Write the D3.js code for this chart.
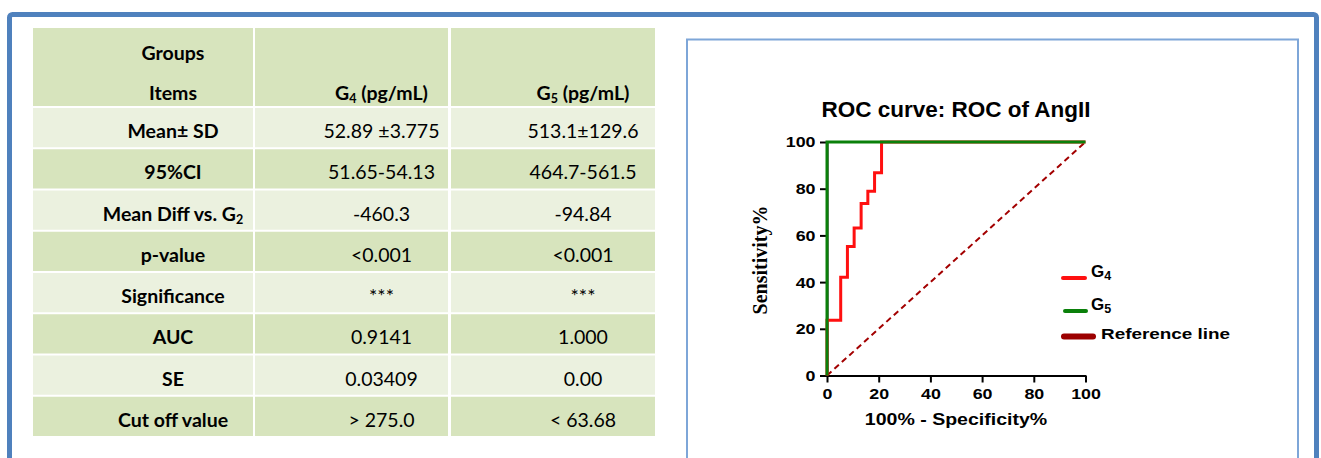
<!DOCTYPE html>
<html>
<head>
<meta charset="utf-8">
<script src="https://cdn.jsdelivr.net/npm/d3@7"></script>
<style>
  body { margin: 0; background: #fff; overflow: hidden; }
  svg { display: block; }
</style>
</head>
<body>
<svg id="chart"></svg>
<script>
// ---- Table content ----
const headerGroups = "Groups";
const headerItems = "Items";
const columnHeads = ["G_4 (pg/mL)", "G_5 (pg/mL)"];
const rowLabels = ["Mean± SD", "95%CI", "Mean Diff vs. G_2", "p-value", "Significance", "AUC", "SE", "Cut off value"];
const g4Values = ["52.89 ±3.775", "51.65-54.13", "-460.3", "<0.001", "***", "0.9141", "0.03409", "> 275.0"];
const g5Values = ["513.1±129.6", "464.7-561.5", "-94.84", "<0.001", "***", "1.000", "0.00", "< 63.68"];

// ---- ROC curve points (100% - specificity, sensitivity) ----
const g4Fpr  = [0, 0, 5.3, 5.3, 7.9, 7.9, 10.5, 10.5, 13.2, 13.2, 15.8, 15.8, 18.4, 18.4, 21.1, 21.1, 100];
const g4Sens = [0, 23.7, 23.7, 42.1, 42.1, 55.3, 55.3, 63.2, 63.2, 73.7, 73.7, 78.9, 78.9, 86.8, 86.8, 100, 100];
const g5Fpr  = [0, 0, 100];
const g5Sens = [0, 100, 100];
const refFpr  = [0, 100];
const refSens = [0, 100];
const xTicks = [0, 20, 40, 60, 80, 100];
const yTicks = [0, 20, 40, 60, 80, 100];
const chartTitle = "ROC curve: ROC of AngII";
const xTitle = "100% - Specificity%";
const yTitle = "Sensitivity%";
const legendLabels = ["G_4", "G_5", "Reference line"];

const width = 1321, height = 458;
const svg = d3.select("#chart").attr("width", width).attr("height", height);

// writes text with "_n" parts as subscripts
function rich(sel, str, subSize, shift) {
    const parts = str.split(/_(\d)/);
    let lowered = false;
    parts.forEach((p, i) => {
        if (!p) return;
        const t = sel.append("tspan").text(p);
        if (i % 2 === 1) {
            t.attr("font-size", subSize).attr("dy", shift);
            lowered = true;
        } else if (lowered) {
            t.attr("dy", -shift);
            lowered = false;
        }
    });
}

// ---- frames ----
svg.append("rect")
    .attr("x", 9.5).attr("y", 14.5)
    .attr("width", 1307).attr("height", 600)
    .attr("rx", 3)
    .attr("fill", "none")
    .attr("stroke", "#4f81bd")
    .attr("stroke-width", 5);

svg.append("rect")
    .attr("x", 687).attr("y", 39.5)
    .attr("width", 611).attr("height", 600)
    .attr("fill", "none")
    .attr("stroke", "#7ea6d8")
    .attr("stroke-width", 2);

// ---- table ----
const table = {
    cols: [[33, 253], [255, 448], [451, 655]],
    headerTop: 28, headerBottom: 106,
    rowTop: 108, rowPitch: 41.25, gap: 2,
    textOffset: 30,
    font: "Lato, 'Open Sans', sans-serif",
    fontSize: 19.5
};
const dark = "#d7e4bd", light = "#ebf1df";
const tg = svg.append("g").attr("font-family", table.font).attr("font-size", table.fontSize).attr("fill", "#000");

table.cols.forEach(c => {
    tg.append("rect")
        .attr("x", c[0]).attr("y", table.headerTop)
        .attr("width", c[1] - c[0]).attr("height", table.headerBottom - table.headerTop)
        .attr("fill", dark);
});
const colCenter = i => (table.cols[i][0] + table.cols[i][1]) / 2 + table.textOffset;

tg.append("text").attr("x", colCenter(0)).attr("y", 60)
    .attr("text-anchor", "middle").attr("font-weight", "bold").text(headerGroups);
tg.append("text").attr("x", colCenter(0)).attr("y", 100)
    .attr("text-anchor", "middle").attr("font-weight", "bold").text(headerItems);
columnHeads.forEach((h, i) => {
    const t = tg.append("text").attr("x", colCenter(i + 1)).attr("y", 100)
        .attr("text-anchor", "middle").attr("font-weight", "bold");
    rich(t, h, 12.5, 3);
});

rowLabels.forEach((label, r) => {
    const top = table.rowTop + r * table.rowPitch;
    const h = table.rowPitch - table.gap;
    const fill = r % 2 === 0 ? light : dark;
    table.cols.forEach(c => {
        tg.append("rect")
            .attr("x", c[0]).attr("y", top)
            .attr("width", c[1] - c[0]).attr("height", h)
            .attr("fill", fill);
    });
    const base = top + h / 2 + 10.5;
    const t = tg.append("text").attr("x", colCenter(0)).attr("y", base)
        .attr("text-anchor", "middle").attr("font-weight", "bold");
    rich(t, label, 12.5, 3);
    tg.append("text").attr("x", colCenter(1)).attr("y", base)
        .attr("text-anchor", "middle").text(g4Values[r]);
    tg.append("text").attr("x", colCenter(2)).attr("y", base)
        .attr("text-anchor", "middle").text(g5Values[r]);
});

// ---- ROC chart ----
const sans = "'Liberation Sans', Arial, sans-serif";
const xScale = d3.scaleLinear().domain([0, 100]).range([827, 1085.5]);
const yScale = d3.scaleLinear().domain([0, 100]).range([375.5, 142]);
const stretch = 1.15;

const cg = svg.append("g").attr("font-family", sans);

cg.append("text")
    .attr("x", 956).attr("y", 116.5)
    .attr("text-anchor", "middle")
    .attr("font-size", 22.5).attr("font-weight", "bold")
    .text(chartTitle);

const xAxis = cg.append("g")
    .attr("transform", `translate(0,${yScale(0)})`)
    .call(d3.axisBottom(xScale).tickValues(xTicks).tickSize(7).tickSizeOuter(0).tickPadding(6));
const yAxis = cg.append("g")
    .attr("transform", `translate(${xScale(0)},0)`)
    .call(d3.axisLeft(yScale).tickValues(yTicks).tickSize(7).tickSizeOuter(0).tickPadding(3));

[xAxis, yAxis].forEach(a => {
    a.select(".domain").attr("stroke", "#000").attr("stroke-width", 2);
    a.selectAll(".tick line").attr("stroke", "#000").attr("stroke-width", 2);
    a.selectAll(".tick text")
        .attr("fill", "#000")
        .attr("font-family", sans)
        .attr("font-size", 15.5)
        .attr("font-weight", "bold")
        .attr("transform", `scale(${stretch},1)`);
});

cg.append("text")
    .attr("transform", `translate(956,425) scale(${stretch},1)`)
    .attr("text-anchor", "middle")
    .attr("font-size", 17).attr("font-weight", "bold")
    .text(xTitle);

cg.append("text")
    .attr("transform", "translate(767,260) rotate(-90)")
    .attr("text-anchor", "middle")
    .attr("font-family", "'Liberation Serif', 'Times New Roman', serif")
    .attr("font-size", 20).attr("font-weight", "bold")
    .text(yTitle);

const line = d3.line().x(d => xScale(d[0])).y(d => yScale(d[1]));
const zip = (a, b) => a.map((v, i) => [v, b[i]]);

cg.append("path")
    .attr("d", line(zip(refFpr, refSens)))
    .attr("fill", "none")
    .attr("stroke", "#a30000")
    .attr("stroke-width", 2)
    .attr("stroke-dasharray", "6,4");

cg.append("path")
    .attr("d", line(zip(g4Fpr, g4Sens)))
    .attr("fill", "none")
    .attr("stroke", "#ff1010")
    .attr("stroke-width", 3);

cg.append("path")
    .attr("d", line(zip(g5Fpr, g5Sens)))
    .attr("fill", "none")
    .attr("stroke", "#0a800a")
    .attr("stroke-width", 3);

// ---- legend ----
const legendItems = [
    { label: legendLabels[0], color: "#ff1010", x1: 1063, x2: 1085, y: 278, w: 4, tx: 1091, ty: 277, size: 17, sx: 1 },
    { label: legendLabels[1], color: "#0a800a", x1: 1065, x2: 1086, y: 311, w: 4, tx: 1091, ty: 310, size: 17, sx: 1 },
    { label: legendLabels[2], color: "#9c0000", x1: 1064, x2: 1093, y: 336.5, w: 6, tx: 1101, ty: 338.5, size: 15.5, sx: 1.22 }
];
legendItems.forEach(d => {
    cg.append("line")
        .attr("x1", d.x1).attr("x2", d.x2)
        .attr("y1", d.y).attr("y2", d.y)
        .attr("stroke", d.color)
        .attr("stroke-width", d.w)
        .attr("stroke-linecap", "round");
    const t = cg.append("text")
        .attr("transform", `translate(${d.tx},${d.ty}) scale(${d.sx},1)`)
        .attr("font-size", d.size).attr("font-weight", "bold");
    rich(t, d.label, 12.5, 3);
});
</script>
</body>
</html>
